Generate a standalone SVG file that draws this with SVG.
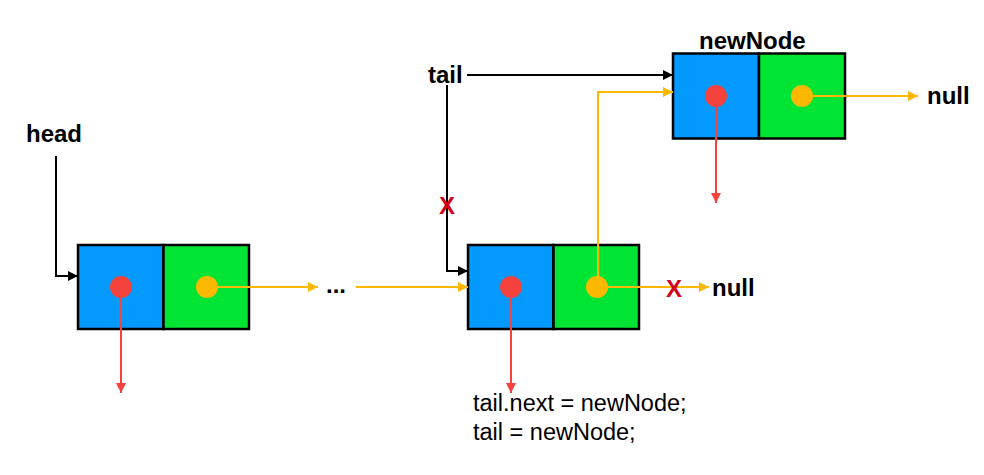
<svg xmlns="http://www.w3.org/2000/svg" width="984" height="475" viewBox="0 0 984 475">
<style>
.lbl{font-family:"Liberation Sans",Arial,sans-serif;font-weight:bold;font-size:24px;fill:#000}
.code{font-family:"Liberation Sans",Arial,sans-serif;font-size:23.5px;fill:#000}
.x{font-family:"Liberation Sans",Arial,sans-serif;font-weight:bold;font-size:24px;fill:#D0021B}
.blue{fill:#0399FF;stroke:#000;stroke-width:2.5}
.green{fill:#00E533;stroke:#000;stroke-width:2.5}
.k{fill:none;stroke:#000;stroke-width:2}
.o{fill:none;stroke:#FFB800;stroke-width:2}
.r{fill:none;stroke:#F5423C;stroke-width:2}
</style>
<defs>
<marker id="ak" markerWidth="10" markerHeight="10" refX="10" refY="5" orient="auto" markerUnits="userSpaceOnUse"><path d="M0,0 L10,5 L0,10 z" fill="#000"/></marker>
<marker id="ao" markerWidth="10" markerHeight="10" refX="10" refY="5" orient="auto" markerUnits="userSpaceOnUse"><path d="M0,0 L10,5 L0,10 z" fill="#FFB800"/></marker>
<marker id="ar" markerWidth="10" markerHeight="10" refX="10" refY="5" orient="auto" markerUnits="userSpaceOnUse"><path d="M0,0 L10,5 L0,10 z" fill="#F5423C"/></marker>
</defs>
<g id="node1">
<rect class="blue" x="78" y="245" width="85.5" height="84"/>
<rect class="green" x="163.5" y="245" width="85.5" height="84"/>
</g>
<g id="node2">
<rect class="blue" x="468" y="245" width="85.5" height="84"/>
<rect class="green" x="553.5" y="245" width="85.5" height="84"/>
</g>
<g id="newNode">
<rect class="blue" x="673" y="53.5" width="86" height="85"/>
<rect class="green" x="759" y="53.5" width="86" height="85"/>
</g>
<g id="connectors">
<path class="k" d="M56,156 V276 H78" marker-end="url(#ak)"/>
<path class="k" d="M467,75 H673" marker-end="url(#ak)"/>
<path class="k" d="M447,85 V271 H468" marker-end="url(#ak)"/>
<path class="o" d="M207,287 H318" marker-end="url(#ao)"/>
<path class="o" d="M356,287 H468" marker-end="url(#ao)"/>
<path class="o" d="M597,287 H709" marker-end="url(#ao)"/>
<path class="o" d="M598,287 V92 H673" marker-end="url(#ao)"/>
<path class="o" d="M802,96 H918" marker-end="url(#ao)"/>
<path class="r" d="M121,287 V393" marker-end="url(#ar)"/>
<path class="r" d="M511,287 V393" marker-end="url(#ar)"/>
<path class="r" d="M716,96 V203" marker-end="url(#ar)"/>
</g>
<g id="dots">
<circle cx="121" cy="287" r="11" fill="#F5423C"/>
<circle cx="207" cy="287" r="11" fill="#FFB800"/>
<circle cx="511" cy="287" r="11" fill="#F5423C"/>
<circle cx="597" cy="287" r="11" fill="#FFB800"/>
<circle cx="716" cy="96" r="11" fill="#F5423C"/>
<circle cx="802" cy="96" r="11" fill="#FFB800"/>
</g>
<g id="labels">
<text class="lbl" x="26" y="142">head</text>
<text class="lbl" x="428" y="83">tail</text>
<text class="lbl" x="699" y="49">newNode</text>
<text class="lbl" x="927" y="104">null</text>
<text class="lbl" x="712" y="296">null</text>
<text class="lbl" x="326" y="293">...</text>
<text class="x" x="439" y="214">X</text>
<text class="x" x="666" y="297">X</text>
<text class="code" x="473" y="411">tail.next = newNode;</text>
<text class="code" x="473" y="440">tail = newNode;</text>
</g>
</svg>
